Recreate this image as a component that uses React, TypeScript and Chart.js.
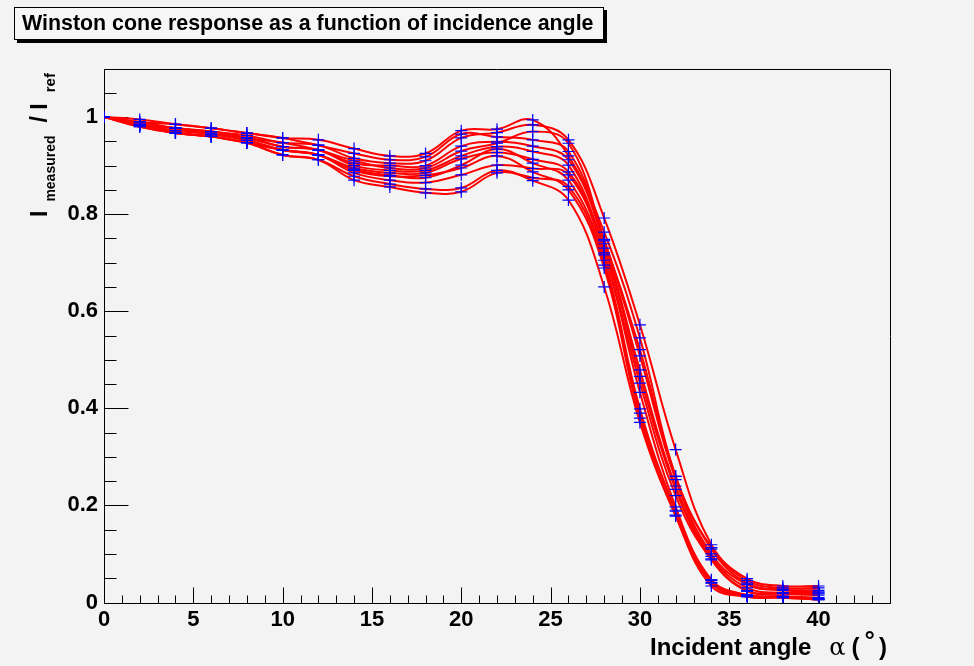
import React, { useEffect, useRef } from "react";
import { Chart, registerables } from "chart.js";

Chart.register(...registerables);

// ---- data ----
const angles = [0, 2, 4, 6, 8, 10, 12, 14, 16, 18, 20, 22, 24, 26, 28, 30, 32, 34, 36, 38, 40];

const cone01 = [1, 0.99, 0.977, 0.97, 0.962, 0.947, 0.942, 0.915, 0.905, 0.91, 0.957, 0.968, 0.984, 0.953, 0.792, 0.572, 0.315, 0.119, 0.049, 0.034, 0.034];
const cone02 = [1, 0.995, 0.985, 0.977, 0.967, 0.957, 0.953, 0.935, 0.92, 0.925, 0.972, 0.975, 0.994, 0.92, 0.763, 0.545, 0.26, 0.113, 0.045, 0.03, 0.03];
const cone03 = [1, 0.985, 0.977, 0.97, 0.957, 0.947, 0.932, 0.91, 0.895, 0.895, 0.93, 0.946, 0.97, 0.946, 0.748, 0.521, 0.26, 0.11, 0.04, 0.027, 0.025];
const cone04 = [1, 0.99, 0.985, 0.977, 0.967, 0.957, 0.942, 0.925, 0.912, 0.918, 0.965, 0.959, 0.953, 0.929, 0.745, 0.508, 0.253, 0.1, 0.037, 0.025, 0.022];
const cone05 = [1, 0.985, 0.977, 0.97, 0.957, 0.939, 0.932, 0.905, 0.9, 0.9, 0.94, 0.949, 0.94, 0.912, 0.739, 0.479, 0.24, 0.095, 0.03, 0.02, 0.018];
const cone06 = [1, 0.983, 0.972, 0.965, 0.952, 0.932, 0.922, 0.895, 0.885, 0.885, 0.914, 0.927, 0.913, 0.887, 0.73, 0.466, 0.233, 0.09, 0.025, 0.02, 0.02];
const cone07 = [1, 0.985, 0.977, 0.965, 0.957, 0.939, 0.932, 0.9, 0.89, 0.89, 0.92, 0.939, 0.929, 0.901, 0.72, 0.452, 0.22, 0.088, 0.023, 0.018, 0.015];
const cone08 = [1, 0.983, 0.967, 0.96, 0.947, 0.932, 0.922, 0.885, 0.87, 0.865, 0.881, 0.901, 0.894, 0.881, 0.716, 0.433, 0.197, 0.047, 0.016, 0.013, 0.01];
const cone09 = [1, 0.983, 0.972, 0.965, 0.952, 0.932, 0.922, 0.892, 0.88, 0.875, 0.901, 0.934, 0.905, 0.87, 0.705, 0.399, 0.19, 0.045, 0.015, 0.012, 0.008];
const cone10 = [1, 0.98, 0.967, 0.96, 0.947, 0.922, 0.912, 0.87, 0.856, 0.844, 0.846, 0.885, 0.875, 0.857, 0.695, 0.39, 0.188, 0.041, 0.014, 0.012, 0.007];
const cone11 = [1, 0.983, 0.967, 0.96, 0.947, 0.932, 0.922, 0.89, 0.878, 0.88, 0.895, 0.92, 0.887, 0.85, 0.689, 0.38, 0.18, 0.04, 0.012, 0.01, 0.006];
const cone12 = [1, 0.98, 0.967, 0.96, 0.947, 0.922, 0.912, 0.878, 0.862, 0.852, 0.854, 0.89, 0.869, 0.829, 0.65, 0.371, 0.178, 0.034, 0.012, 0.01, 0.006];

const allCones = [cone01, cone02, cone03, cone04, cone05, cone06, cone07, cone08, cone09, cone10, cone11, cone12];

const xMin = 0;
const xMax = 44;
const xMajorStep = 5;
const xMinorStep = 1;
const yMin = 0;
const yMax = 1.1;
const yMajorStep = 0.2;
const yMinorStep = 0.05;

const titleText = "Winston cone response as a function of incidence angle";

const FONT = '"Liberation Sans", Arial, Helvetica, sans-serif';
const BG = "#f3f3f3";

const rootFrame = {
  id: "rootFrame",
  beforeDatasetsDraw(chart: any) {
    const { ctx, chartArea: a, scales } = chart;
    const x = scales.x;
    const y = scales.y;
    ctx.save();
    ctx.strokeStyle = "#000";
    ctx.lineWidth = 1;
    const L = Math.round(a.left) + 0.5;
    const T = Math.round(a.top) + 0.5;
    const R = Math.round(a.right) + 0.5;
    const B = Math.round(a.bottom) + 0.5;
    ctx.beginPath();
    ctx.rect(L, T, R - L, B - T);
    ctx.stroke();
    ctx.beginPath();
    for (let i = 0; xMin + i * xMinorStep <= xMax + 1e-9; i++) {
      const v = xMin + i * xMinorStep;
      const px = Math.round(x.getPixelForValue(v)) + 0.5;
      const r = v / xMajorStep;
      const major = Math.abs(r - Math.round(r)) < 1e-6;
      const len = major ? 16 : 8;
      ctx.moveTo(px, B);
      ctx.lineTo(px, B - len);
    }
    for (let i = 0; yMin + i * yMinorStep <= yMax + 1e-9; i++) {
      const v = yMin + i * yMinorStep;
      const py = Math.round(y.getPixelForValue(v)) + 0.5;
      const r = v / yMajorStep;
      const major = Math.abs(r - Math.round(r)) < 1e-6;
      const len = major ? 24 : 12;
      ctx.moveTo(L, py);
      ctx.lineTo(L + len, py);
    }
    ctx.stroke();
    ctx.restore();
  },
  afterDraw(chart: any) {
    const { ctx } = chart;
    ctx.save();
    ctx.fillStyle = "#000";
    ctx.textBaseline = "alphabetic";
    // x-axis title
    let cx = 650;
    const by = 655;
    ctx.font = `bold 24px ${FONT}`;
    ctx.fillText("Incident angle", cx, by);
    cx += ctx.measureText("Incident angle").width + 18;
    ctx.font = `24px "DejaVu Serif", serif`;
    ctx.fillText("\u03b1", cx, by);
    cx += ctx.measureText("\u03b1").width + 6;
    ctx.font = `bold 24px ${FONT}`;
    ctx.fillText("(", cx, by);
    cx += ctx.measureText("(").width + 5;
    ctx.font = `bold 26px ${FONT}`;
    ctx.fillText("\u00b0", cx, by - 6);
    cx += ctx.measureText("\u00b0").width + 4;
    ctx.font = `bold 24px ${FONT}`;
    ctx.fillText(")", cx, by);

    // y-axis title (rotated)
    ctx.translate(47, 217);
    ctx.rotate(-Math.PI / 2);
    let tx = 0;
    ctx.font = `bold 23px ${FONT}`;
    ctx.fillText("I", tx, 0);
    tx += ctx.measureText("I").width + 9;
    ctx.font = `bold 14px ${FONT}`;
    ctx.fillText("measured", tx, 8);
    tx += ctx.measureText("measured").width + 13;
    ctx.font = `bold 23px ${FONT}`;
    ctx.fillText("/ I", tx, 0);
    tx += ctx.measureText("/ I").width + 11;
    ctx.font = `bold 15px ${FONT}`;
    ctx.fillText("ref", tx, 8);
    ctx.restore();
  },
};

export default function App() {
  const canvasRef = useRef<HTMLCanvasElement | null>(null);

  useEffect(() => {
    document.body.style.margin = "0";
    document.body.style.background = BG;
    const canvas = canvasRef.current;
    if (!canvas) return;

    const lineSets = allCones.map((vals, i) => ({
      label: `cone ${i + 1}`,
      data: angles.map((a, j) => ({ x: a, y: vals[j] })),
      borderColor: "#ff0000",
      borderWidth: 2,
      pointRadius: 0,
      showLine: true,
      fill: false,
      tension: 0.4,
      order: 2,
    }));
    const pointSets = allCones.map((vals, i) => ({
      label: `cone ${i + 1} points`,
      data: angles.map((a, j) => ({ x: a, y: vals[j] })),
      showLine: false,
      pointStyle: "cross",
      pointRadius: 6,
      pointBorderWidth: 1.2,
      pointBorderColor: "#0000ff",
      borderColor: "#0000ff",
      order: 1,
    }));

    const chart = new Chart(canvas, {
      type: "scatter",
      data: { datasets: [...lineSets, ...pointSets] as any },
      options: {
        animation: false,
        responsive: true,
        maintainAspectRatio: false,
        layout: { padding: { left: 0, top: 68.5, right: 84, bottom: 0 } },
        plugins: {
          legend: { display: false },
          tooltip: { enabled: false },
          title: { display: false },
        },
        scales: {
          x: {
            type: "linear",
            min: xMin,
            max: xMax,
            grid: { display: false, drawTicks: false },
            border: { display: false },
            ticks: {
              stepSize: xMajorStep,
              includeBounds: false,
              color: "#000",
              padding: 4,
              maxRotation: 0,
              autoSkip: false,
              font: { family: FONT, size: 22, weight: "bold" },
            },
            afterFit(scale: any) {
              scale.height = 63.5;
            },
          },
          y: {
            type: "linear",
            min: yMin,
            max: yMax,
            grid: { display: false, drawTicks: false },
            border: { display: false },
            ticks: {
              stepSize: yMajorStep,
              includeBounds: false,
              color: "#000",
              padding: 6,
              autoSkip: false,
              font: { family: FONT, size: 22, weight: "bold" },
              callback: (v: any) => String(Math.round(Number(v) * 10) / 10),
            },
            afterFit(scale: any) {
              scale.width = 104;
            },
          },
        },
      },
      plugins: [rootFrame],
    });
    return () => chart.destroy();
  }, []);

  return (
    <div style={{ position: "relative", width: 974, height: 666, background: BG, overflow: "hidden" }}>
      <canvas ref={canvasRef} />
      <div
        style={{
          position: "absolute",
          left: 14,
          top: 7,
          width: 581,
          height: 31,
          background: "#f6f6f6",
          border: "1px solid #000",
          boxShadow: "3px 3px 0 #000",
          fontFamily: FONT,
          fontWeight: "bold",
          fontSize: 21.4,
          lineHeight: "31px",
          paddingLeft: 7,
          boxSizing: "content-box",
          whiteSpace: "nowrap",
          color: "#000",
        }}
      >
        {titleText}
      </div>
    </div>
  );
}
